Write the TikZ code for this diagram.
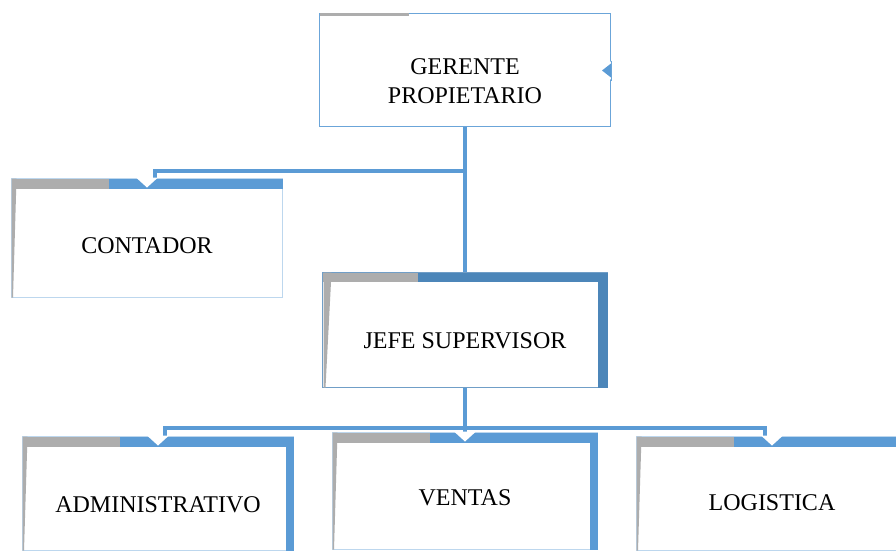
\documentclass[tikz,border=0pt]{standalone}
\usepackage{fontspec}
\setmainfont{Liberation Serif}
\usepackage{tikz}
\usetikzlibrary{positioning}

\definecolor{barblue}{HTML}{5B9BD5}
\definecolor{darkblue}{HTML}{4C86B9}
\definecolor{bargray}{HTML}{ADADAD}
\definecolor{edgeblue}{HTML}{BDD7EE}

\tikzset{
    orgbox/.style={draw=edgeblue, line width=1pt, fill=white, inner sep=0pt},
    boxtext/.style={font=\fontsize{24}{29}\selectfont, align=center, text=black},
    link/.style={draw=barblue, line width=3.5pt}
}

\begin{document}
\begin{tikzpicture}[x=1pt, y=-1pt]
    \useasboundingbox[fill=white] (0,0) rectangle (896,550);

    % Bus coordinates
    \coordinate (bus1) at (465,171);
    \coordinate (bus2) at (465,428);

    % Boxes (drawn empty, text added below)
    \node[orgbox, draw=barblue!90, minimum width=291pt, minimum height=113pt] (gerente) at (465,69.5) {};
    \node[orgbox, minimum width=270pt, minimum height=118pt] (contador) at (147,238) {};
    \node[orgbox, minimum width=284pt, minimum height=114pt] (jefe) at (465,330) {};
    \node[orgbox, minimum width=270pt, minimum height=113pt] (admin) at (158,493.5) {};
    \node[orgbox, minimum width=264pt, minimum height=116pt] (ventas) at (465,491) {};
    \node[orgbox, minimum width=270pt, minimum height=113pt] (logistica) at (772,493.5) {};

    % Connectors
    \draw[link] (gerente.south) -- (jefe.north);
    \draw[link] (bus1) -| ([xshift=8pt]contador.north);
    \draw[link] (jefe.south) -- (ventas.north);
    \draw[link] ([xshift=7pt]admin.north) |- (bus2) -| ([xshift=-7pt]logistica.north);

    % Redraw box fills over the link ends
    \foreach \b in {contador, admin, ventas, logistica, jefe} {
        \fill[white] ([yshift=-1pt]\b.north west) rectangle (\b.south east);
        \draw[edgeblue, line width=1pt] (\b.north west) rectangle (\b.south east);
    }

    % Top bars of the lower boxes
    \foreach \b in {contador, admin, ventas, logistica} {
        \fill[bargray] (\b.north west) rectangle ([xshift=97pt,yshift=-10pt]\b.north west);
        \fill[barblue] ([xshift=97pt]\b.north west) rectangle ([yshift=-10pt]\b.north east);
        \fill[bargray] (\b.north west) -- ([xshift=5pt]\b.north west) -- ([xshift=1.5pt]\b.south west) -- (\b.south west) -- cycle;
        \fill[white] ([xshift=-11pt,yshift=1pt]\b.north) -- ([xshift=11pt,yshift=1pt]\b.north) -- ([yshift=-9pt]\b.north) -- cycle;
    }

    % Right bars of the bottom row
    \foreach \b in {admin, ventas, logistica} {
        \fill[barblue] ([yshift=-10pt]\b.north east) rectangle ([xshift=-8pt]\b.south east);
    }

    % Jefe supervisor frame
    \draw[darkblue!80, line width=1pt] (jefe.north west) rectangle (jefe.south east);
    \fill[bargray] (jefe.north west) rectangle ([xshift=95pt,yshift=-9pt]jefe.north west);
    \fill[darkblue] ([xshift=95pt]jefe.north west) rectangle ([yshift=-9pt]jefe.north east);
    \fill[darkblue] ([yshift=-9pt]jefe.north east) rectangle ([xshift=-10pt]jefe.south east);
    \fill[bargray] ([xshift=1pt]jefe.north west) -- ([xshift=9pt]jefe.north west) -- ([xshift=3pt]jefe.south west) -- ([xshift=1pt]jefe.south west) -- cycle;

    % Gerente frame details
    \fill[bargray] ([xshift=0.5pt,yshift=-0.5pt]gerente.north west) rectangle ([xshift=90pt,yshift=-3.5pt]gerente.north west);
    \fill[white] ([xshift=-12pt,yshift=-1pt]gerente.east) -- ([xshift=1pt,yshift=9pt]gerente.east) -- ([xshift=1pt,yshift=-11pt]gerente.east) -- cycle;
    \fill[barblue] ([xshift=-9pt,yshift=-1pt]gerente.east) -- ([yshift=6pt]gerente.east) -- ([yshift=-8pt]gerente.east) -- cycle;
    \draw[barblue!90, line width=1pt] ([yshift=9pt]gerente.east) -- ([yshift=-11pt]gerente.east);

    % Texts
    \node[boxtext] (gerente-t) at ([yshift=-12pt]gerente.center) {GERENTE\\PROPIETARIO};
    \node[boxtext] (contador-t) at ([yshift=-7.5pt]contador.center) {CONTADOR};
    \node[boxtext] (jefe-t) at ([yshift=-10.5pt]jefe.center) {JEFE SUPERVISOR};
    \node[boxtext] (admin-t) at ([yshift=-11pt]admin.center) {ADMINISTRATIVO};
    \node[boxtext] (ventas-t) at ([yshift=-7pt]ventas.center) {VENTAS};
    \node[boxtext] (logistica-t) at ([yshift=-9pt]logistica.center) {LOGISTICA};
\end{tikzpicture}
\end{document}
